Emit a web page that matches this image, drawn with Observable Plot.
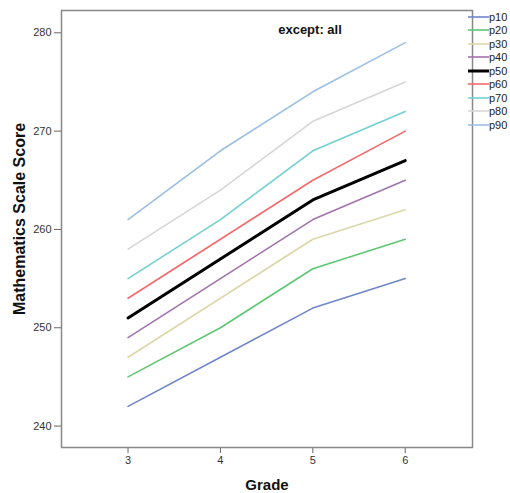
<!DOCTYPE html>
<html><head><meta charset="utf-8">
<script src="https://cdn.jsdelivr.net/npm/d3@7"></script>
<script src="https://cdn.jsdelivr.net/npm/@observablehq/plot@0.6"></script>
<style>
body{margin:0;background:#fff;font-family:Arial,"Liberation Sans",sans-serif;}
#wrap{position:relative;width:510px;height:493px;}
#legend{position:absolute;left:468px;top:10px;font-size:11px;color:#222;}
#legend .row{display:flex;align-items:center;height:13.5px;}
#legend svg{display:block}
</style>
</head><body>
<div id="wrap"><div id="chart"></div><div id="legend"></div></div>
<script>
const grades = [3, 4, 5, 6];
const seriesNames = ["p10","p20","p30","p40","p50","p60","p70","p80","p90"];
const p10 = [242, 247, 252, 255];
const p20 = [245, 250, 256, 259];
const p30 = [247, 253, 259, 262];
const p40 = [249, 255, 261, 265];
const p50 = [251, 257, 263, 267];
const p60 = [253, 259, 265, 270];
const p70 = [255, 261, 268, 272];
const p80 = [258, 264, 271, 275];
const p90 = [261, 268, 274, 279];
const colors = ["#6f86c8","#5fc674","#dcd7a9","#a173ab","#000000","#f46a6c","#72d0d1","#d6d6d6","#9bbfe2"];
const yTicks = [240, 250, 260, 270, 280];
const title = "except: all";

const values = [p10,p20,p30,p40,p50,p60,p70,p80,p90];
const data = [];
seriesNames.forEach((s,i)=>grades.forEach((g,j)=>data.push({series:s, grade:g, score:values[i][j]})));

const chart = Plot.plot({
  width: 510, height: 493,
  marginLeft: 61, marginRight: 38, marginTop: 10, marginBottom: 46,
  style: {fontFamily: "Arial, 'Liberation Sans', sans-serif", fontSize: "11px", color: "#333"},
  x: {domain: [2.28, 6.728], ticks: grades, tickFormat: d3.format("d"), label: null},
  y: {domain: [237.82, 282.27], ticks: yTicks, label: null},
  color: {domain: seriesNames, range: colors},
  marks: [
    Plot.axisX({ticks: grades, tickSize: 6, tickPadding: 3, stroke: "#666", fill: "#333", tickFormat: d3.format("d")}),
    Plot.axisY({ticks: yTicks, tickSize: 7, tickPadding: 3, stroke: "#666", fill: "#333"}),
    Plot.text(["Grade"], {frameAnchor: "bottom", dy: 42, fontWeight: "bold", fontSize: 15, fill: "#111"}),
    Plot.text(["Mathematics Scale Score"], {frameAnchor: "left", textAnchor: "middle", dx: -42, dy: -10, rotate: -90, fontWeight: "bold", fontSize: 16, fill: "#111"}),
    Plot.lineY(data, {x: "grade", y: "score", z: "series", stroke: "series",
      strokeWidth: d => d.series === "p50" ? 3 : 1.6}),
    Plot.frame({stroke: "#888", strokeWidth: 1.5}),
    Plot.text([title], {frameAnchor: "top", dx: 43, dy: 14, fontWeight: "bold", fontSize: 13, fill: "#111"})
  ]
});
document.getElementById("chart").append(chart);

const leg = document.getElementById("legend");
seriesNames.forEach((s,i)=>{
  const row = document.createElement("div");
  row.className = "row";
  row.innerHTML = `<svg width="21" height="6"><line x1="0" x2="21" y1="3" y2="3" stroke="${colors[i]}" stroke-width="${s==='p50'?3:1.6}"/></svg><span>${s}</span>`;
  leg.append(row);
});
</script>
</body></html>
